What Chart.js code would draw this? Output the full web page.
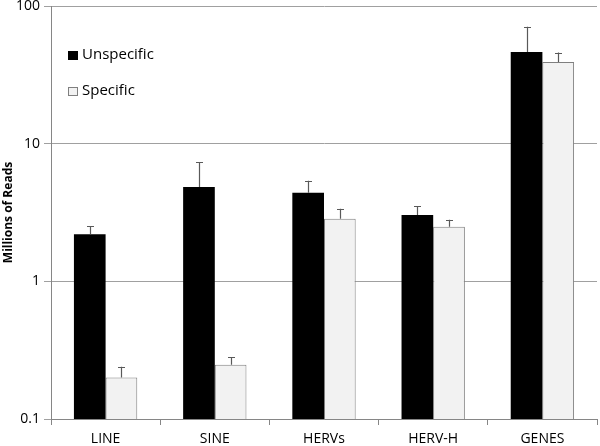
<!DOCTYPE html>
<html>
<head>
<meta charset="utf-8">
<script src="https://cdn.jsdelivr.net/npm/chart.js@4"></script>
<style>
  html, body { margin: 0; padding: 0; background: #fff; }
  #wrap { width: 600px; height: 446px; position: relative; }
</style>
</head>
<body>
<div id="wrap"><canvas id="chart" width="600" height="446"></canvas></div>
<script>
// Data (millions of reads, log scale)
const categories = ["LINE", "SINE", "HERVs", "HERV-H", "GENES"];
const unspecific = [2.2, 4.85, 4.4, 3.03, 46.4];
const specific = [0.2, 0.248, 2.85, 2.49, 39.2];
// top of each error bar
const unspecificErr = [2.52, 7.3, 5.37, 3.51, 70.6];
const specificErr = [0.24, 0.28, 3.37, 2.8, 45.9];
const yTicks = [0.1, 1, 10, 100];

const FONT = "'Open Sans', 'Liberation Sans', sans-serif";

// Draw the upper error bars from the error arrays
const errorBars = {
  id: "errorBars",
  afterDatasetsDraw(chart) {
    const ctx = chart.ctx;
    const y = chart.scales.y;
    const tops = [unspecificErr, specificErr];
    ctx.save();
    ctx.strokeStyle = "#595959";
    ctx.lineWidth = 1.2;
    chart.data.datasets.forEach((ds, i) => {
      const meta = chart.getDatasetMeta(i);
      meta.data.forEach((bar, j) => {
        const x = Math.round(bar.x) + 0.5;
        const y0 = y.getPixelForValue(ds.data[j]);
        const y1 = y.getPixelForValue(tops[i][j]);
        ctx.beginPath();
        ctx.moveTo(x, y0);
        ctx.lineTo(x, y1);
        ctx.moveTo(x - 3.5, Math.round(y1) + 0.5);
        ctx.lineTo(x + 3.5, Math.round(y1) + 0.5);
        ctx.stroke();
      });
    });
    ctx.restore();
  }
};

// Legend drawn inside the plot, top left
const insideLegend = {
  id: "insideLegend",
  afterDraw(chart) {
    const ctx = chart.ctx;
    const items = [
      { label: "Unspecific", fill: "#000000", stroke: "#000000", y: 55 },
      { label: "Specific", fill: "#f2f2f2", stroke: "#7f7f7f", y: 91 }
    ];
    ctx.save();
    ctx.font = "15px " + FONT;
    ctx.textBaseline = "middle";
    items.forEach((it) => {
      ctx.fillStyle = it.fill;
      ctx.fillRect(68, it.y - 4, 10, 9);
      ctx.strokeStyle = it.stroke;
      ctx.lineWidth = 1;
      ctx.strokeRect(68.5, it.y - 3.5, 9, 8);
      ctx.fillStyle = "#000";
      ctx.fillText(it.label, 82, it.y);
    });
    ctx.restore();
  }
};

new Chart(document.getElementById("chart"), {
  type: "bar",
  data: {
    labels: categories,
    datasets: [
      {
        label: "Unspecific",
        data: unspecific,
        backgroundColor: "#000000",
        borderColor: "#000000",
        borderWidth: 0
      },
      {
        label: "Specific",
        data: specific,
        backgroundColor: "#f2f2f2",
        borderColor: "#7f7f7f",
        borderWidth: 1
      }
    ]
  },
  options: {
    responsive: false,
    animation: false,
    layout: { padding: { left: 0, right: 3, top: 0, bottom: 0 } },
    datasets: {
      bar: { categoryPercentage: 0.58, barPercentage: 1.0 }
    },
    plugins: {
      legend: { display: false },
      tooltip: { enabled: false }
    },
    scales: {
      x: {
        grid: {
          display: true,
          drawOnChartArea: false,
          drawTicks: true,
          tickLength: 6,
          color: "#868686",
          offset: true
        },
        border: { color: "#868686", width: 1 },
        ticks: {
          color: "#000",
          font: { family: FONT, size: 14 },
          padding: 6
        },
        afterFit(scale) { scale.height = 27; }
      },
      y: {
        type: "logarithmic",
        min: 0.1,
        max: 100,
        afterBuildTicks(scale) {
          scale.ticks = yTicks.map((v) => ({ value: v }));
        },
        grid: {
          color: "#a0a0a0",
          lineWidth: 1,
          drawTicks: true,
          tickLength: 7
        },
        border: { color: "#868686", width: 1 },
        ticks: {
          color: "#000",
          font: { family: FONT, size: 14 },
          padding: 4,
          callback: (v) => String(v)
        },
        title: {
          display: true,
          text: "Millions of Reads",
          color: "#000",
          font: { family: FONT, size: 12, weight: "bold" },
          padding: { top: 1, bottom: 0 }
        },
        afterFit(scale) { scale.width = 51; }
      }
    }
  },
  plugins: [errorBars, insideLegend, {
    id: "fixArea",
    afterLayout(chart) {
      // keep the plot box where the reference has it
      const a = chart.chartArea;
      const y = chart.scales.y;
      if (a.top !== 6) {
        y.top = 6; a.top = 6;
        y.height = y.bottom - y.top;
        y.configure();
      }
    }
  }]
});
</script>
</body>
</html>
